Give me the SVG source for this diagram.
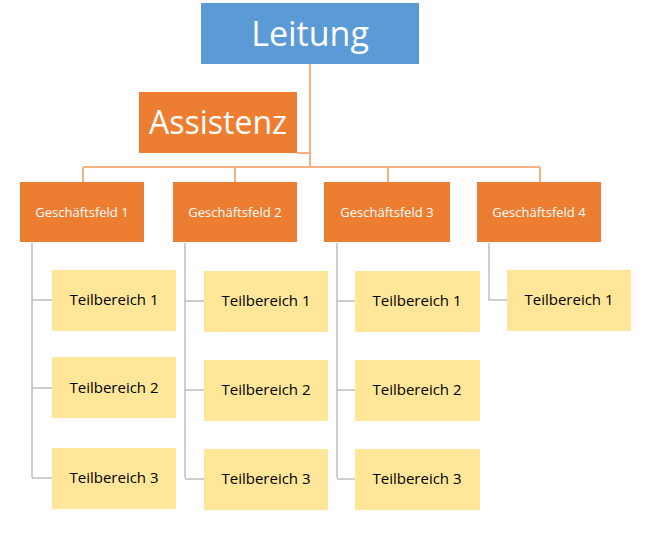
<svg xmlns="http://www.w3.org/2000/svg" width="650" height="533" viewBox="0 0 650 533">
<style>
.gf{fill:#ED7D31}.tb{fill:#FFE699}
.gt{font-family:"Open Sans","Liberation Sans",sans-serif;font-size:13px;fill:#fff;text-anchor:middle}
.tt{font-family:"Open Sans","Liberation Sans",sans-serif;font-size:15px;fill:#000;text-anchor:middle}
.oc{stroke:#F4B183;stroke-width:2;fill:none}.gc{stroke:#BFBFBF;stroke-width:1.5;fill:none}
</style>
<rect width="650" height="533" fill="#fff"/>
<g id="connectors">
<path class="oc" d="M310 64V167M297 153H310M83 167H540M83 167V182M235 167V182M388 167V182M540 167V182"/>
<path class="gc" d="M32 243V478M32 300H52M32 388H52M32 478H52"/>
<path class="gc" d="M185 243V478M185 301H204M185 390H204M185 479H204"/>
<path class="gc" d="M337 243V478M337 301H355M337 390H355M337 479H355"/>
<path class="gc" d="M489 243V300H507"/>
</g>
<g id="leitung"><rect x="201" y="3" width="218" height="61" fill="#5B9BD5"/><text x="310" y="46" font-family="Open Sans,Liberation Sans,sans-serif" font-size="34" fill="#fff" text-anchor="middle">Leitung</text></g>
<g id="assistenz"><rect x="139" y="92" width="158" height="61" class="gf"/><text x="218" y="134" font-family="Open Sans,Liberation Sans,sans-serif" font-size="32" fill="#fff" text-anchor="middle">Assistenz</text></g>
<g id="gf1"><rect x="20" y="182" width="124" height="60" class="gf"/><text x="82" y="217" class="gt">Geschäftsfeld 1</text></g>
<g id="gf2"><rect x="173" y="182" width="124" height="60" class="gf"/><text x="235" y="217" class="gt">Geschäftsfeld 2</text></g>
<g id="gf3"><rect x="324" y="182" width="126" height="60" class="gf"/><text x="387" y="217" class="gt">Geschäftsfeld 3</text></g>
<g id="gf4"><rect x="477" y="182" width="124" height="60" class="gf"/><text x="539" y="217" class="gt">Geschäftsfeld 4</text></g>
<g id="tb11"><rect x="52" y="270" width="124" height="61" class="tb"/><text x="114" y="305" class="tt">Teilbereich 1</text></g>
<g id="tb12"><rect x="52" y="357" width="124" height="61" class="tb"/><text x="114" y="393" class="tt">Teilbereich 2</text></g>
<g id="tb13"><rect x="52" y="448" width="124" height="61" class="tb"/><text x="114" y="483" class="tt">Teilbereich 3</text></g>
<g id="tb21"><rect x="204" y="271" width="124" height="61" class="tb"/><text x="266" y="306" class="tt">Teilbereich 1</text></g>
<g id="tb22"><rect x="204" y="360" width="124" height="61" class="tb"/><text x="266" y="395" class="tt">Teilbereich 2</text></g>
<g id="tb23"><rect x="204" y="449" width="124" height="61" class="tb"/><text x="266" y="484" class="tt">Teilbereich 3</text></g>
<g id="tb31"><rect x="355" y="271" width="125" height="61" class="tb"/><text x="417" y="306" class="tt">Teilbereich 1</text></g>
<g id="tb32"><rect x="355" y="360" width="125" height="61" class="tb"/><text x="417" y="395" class="tt">Teilbereich 2</text></g>
<g id="tb33"><rect x="355" y="449" width="125" height="61" class="tb"/><text x="417" y="484" class="tt">Teilbereich 3</text></g>
<g id="tb41"><rect x="507" y="270" width="124" height="61" class="tb"/><text x="569" y="305" class="tt">Teilbereich 1</text></g>
</svg>
